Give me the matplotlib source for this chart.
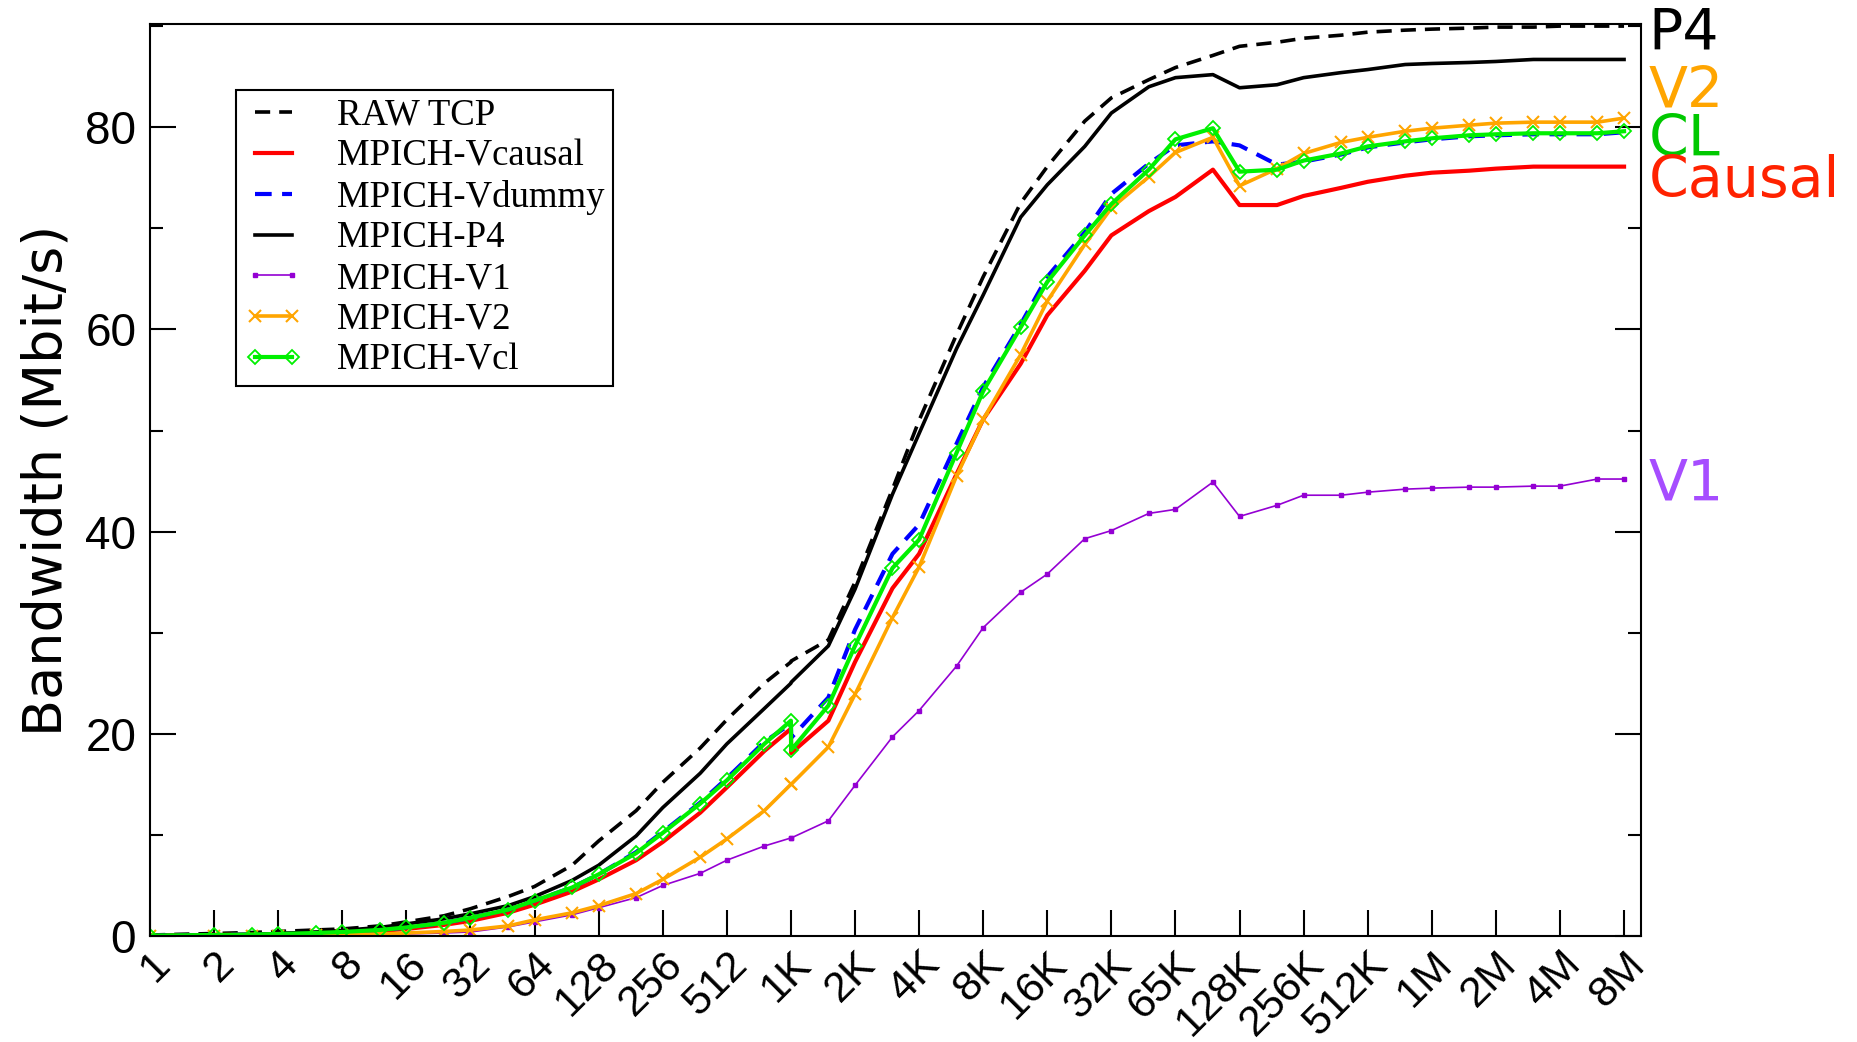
import matplotlib
matplotlib.use('Agg')
import matplotlib.pyplot as plt
from matplotlib.ticker import MultipleLocator, NullLocator

# message sizes (bytes): powers of two and 1.5x steps, plus 1K+3 where the curves drop
sizes = [1, 2, 3, 4, 6, 8, 12, 16, 24, 32,
         48, 64, 96, 128, 192, 256, 384, 512, 768, 1024,
         1027, 1536, 2048, 3072, 4096, 6144, 8192, 12288, 16384, 24576,
         32768, 49152, 65536, 98304, 131072, 196608, 262144, 393216, 524288, 786432,
         1048576, 1572864, 2097152, 3145728, 4194304, 6291456, 8388608]

raw_tcp = [0.1, 0.25, 0.35, 0.45, 0.6, 0.7, 1.0, 1.4, 2.0, 2.7,
           3.9, 4.9, 7.0, 9.4, 12.4, 15.2, 18.6, 21.4, 25.0, 27.1,
           27.2, 29.3, 35.0, 44.2, 51.0, 59.5, 65.2, 72.5, 76.1, 80.6,
           82.9, 84.7, 85.9, 87.1, 88.0, 88.4, 88.8, 89.1, 89.4, 89.6,
           89.7, 89.8, 89.9, 89.9, 90.0, 90.0, 90.0]

vcausal = [0.05, 0.1, 0.15, 0.2, 0.3, 0.35, 0.5, 0.7, 1.1, 1.5,
           2.3, 3.1, 4.4, 5.6, 7.5, 9.3, 12.2, 14.7, 18.3, 20.5,
           18.1, 21.3, 27.1, 34.4, 37.8, 45.7, 51.1, 56.6, 61.4, 65.8,
           69.3, 71.7, 73.1, 75.8, 72.3, 72.3, 73.2, 74.0, 74.6, 75.2,
           75.5, 75.7, 75.9, 76.1, 76.1, 76.1, 76.1]

vdummy = [0.05, 0.1, 0.15, 0.2, 0.3, 0.4, 0.6, 0.85, 1.3, 1.8,
          2.6, 3.5, 4.8, 6.1, 8.3, 10.3, 13.2, 15.6, 19.2, 21.0,
          19.6, 23.6, 30.3, 37.8, 40.7, 48.7, 54.3, 60.5, 65.2, 69.6,
          73.4, 76.4, 78.2, 78.6, 78.2, 76.3, 76.6, 77.3, 78.0, 78.5,
          78.8, 79.1, 79.2, 79.3, 79.3, 79.3, 79.5]

p4 = [0.05, 0.1, 0.15, 0.25, 0.4, 0.55, 0.85, 1.2, 1.7, 2.2,
      3.0, 3.9, 5.5, 7.0, 9.9, 12.7, 16.1, 19.0, 22.5, 25.0,
      25.1, 28.7, 34.3, 43.7, 49.7, 58.1, 63.4, 71.1, 74.3, 78.1,
      81.4, 84.0, 84.9, 85.2, 83.9, 84.2, 84.9, 85.4, 85.7, 86.2,
      86.3, 86.4, 86.5, 86.7, 86.7, 86.7, 86.7]

v1 = [0.0, 0.0, 0.02, 0.05, 0.08, 0.1, 0.15, 0.2, 0.3, 0.4,
      0.9, 1.4, 2.1, 2.8, 3.8, 5.0, 6.2, 7.5, 8.9, 9.7,
      9.7, 11.4, 14.9, 19.7, 22.3, 26.7, 30.5, 34.0, 35.8, 39.3,
      40.1, 41.8, 42.2, 44.9, 41.5, 42.6, 43.6, 43.6, 43.9, 44.2,
      44.3, 44.4, 44.4, 44.5, 44.5, 45.2, 45.2]

v2 = [0.0, 0.0, 0.02, 0.05, 0.1, 0.15, 0.2, 0.3, 0.45, 0.6,
      1.0, 1.6, 2.3, 3.0, 4.2, 5.6, 7.8, 9.6, 12.4, 15.0,
      15.0, 18.7, 23.9, 31.5, 36.5, 45.5, 51.1, 57.5, 62.8, 68.4,
      72.0, 75.1, 77.5, 79.0, 74.2, 75.9, 77.4, 78.5, 79.0, 79.6,
      79.9, 80.2, 80.4, 80.5, 80.5, 80.5, 80.9]

vcl = [0.05, 0.1, 0.15, 0.2, 0.3, 0.4, 0.6, 0.85, 1.3, 1.8,
       2.6, 3.5, 4.8, 6.1, 8.2, 10.2, 13.1, 15.4, 19.0, 21.3,
       18.4, 22.8, 28.7, 36.4, 39.2, 47.8, 53.9, 60.2, 64.7, 69.3,
       72.4, 75.8, 78.8, 79.9, 75.6, 75.8, 76.7, 77.4, 78.1, 78.6,
       78.9, 79.2, 79.3, 79.4, 79.4, 79.4, 79.6]

tick_sizes = [2 ** k for k in range(24)]
tick_labels = ['1', '2', '4', '8', '16', '32', '64', '128', '256', '512',
               '1K', '2K', '4K', '8K', '16K', '32K', '65K', '128K', '256K', '512K',
               '1M', '2M', '4M', '8M']

# names written to the right of the frame
side_names = ['P4', 'V2', 'CL', 'Causal', 'V1']
side_levels = [89.2, 83.5, 78.7, 74.6, 44.6]
side_colors = ['black', '#ffa500', '#00c800', '#ff2200', '#a64dff']

plt.rcParams['font.family'] = ['Liberation Sans', 'DejaVu Sans']

fig = plt.figure(figsize=(18.57, 10.42), dpi=100)
ax = fig.add_axes([0.0808, 0.1017, 0.8029, 0.8752])

ax.plot(sizes, raw_tcp, color='black', ls=(0, (4.2, 2.5)), lw=2.6, label='RAW TCP')
ax.plot(sizes, vcausal, color='red', lw=3.0, label='MPICH-Vcausal')
ax.plot(sizes, vdummy, color='blue', ls=(0, (4, 2.5)), lw=3.0, label='MPICH-Vdummy')
ax.plot(sizes, p4, color='black', lw=2.6, label='MPICH-P4')
ax.plot(sizes, v1, color='#9400d3', lw=1.2, marker='s', ms=3, label='MPICH-V1')
ax.plot(sizes, v2, color='#ffa500', lw=2.6, marker='x', ms=8, mew=1.5, label='MPICH-V2')
ax.plot(sizes, vcl, color='#00f000', lw=3.0, marker='D', ms=7, mfc='none', mew=1.3,
        label='MPICH-Vcl')

ax.set_xscale('log', base=2)
ax.set_xlim(1, 2 ** 23.265)
ax.set_ylim(0, 90.2)
ax.set_xticks(tick_sizes)
ax.set_xticklabels(tick_labels, rotation=45, rotation_mode='anchor', ha='right', va='top')
ax.xaxis.set_minor_locator(NullLocator())
ax.set_yticks([0, 20, 40, 60, 80])
ax.yaxis.set_minor_locator(MultipleLocator(10))

ax.tick_params(axis='both', which='major', direction='in', length=18.7, width=1.5)
ax.tick_params(axis='x', pad=6, top=False, labelsize=31)
ax.tick_params(axis='y', which='both', right=True, pad=10, labelsize=33)
ax.tick_params(axis='y', which='minor', direction='in', length=9.4, width=1.5)
for s in ax.spines.values():
    s.set_linewidth(1.5)

ax.set_ylabel('Bandwidth (Mbit/s)', fontsize=39, family='DejaVu Sans')
ax.yaxis.set_label_coords(-0.0523, 0.5)

leg = ax.legend(loc='upper left', bbox_to_anchor=(0.0577, 0.9276), borderaxespad=0,
                prop={'family': 'Liberation Serif', 'size': 26.5}, handlelength=1.6,
                handletextpad=0.93, labelspacing=0.17, borderpad=0.22, fancybox=False,
                edgecolor='black', framealpha=1, numpoints=2)
leg.get_frame().set_linewidth(1.5)

for name, lev, col in zip(side_names, side_levels, side_colors):
    ax.text(1.005, lev, name, transform=ax.get_yaxis_transform(), fontsize=41,
            family='DejaVu Sans', color=col, ha='left', va='center', clip_on=False)

fig.savefig('out.png', dpi=100)
